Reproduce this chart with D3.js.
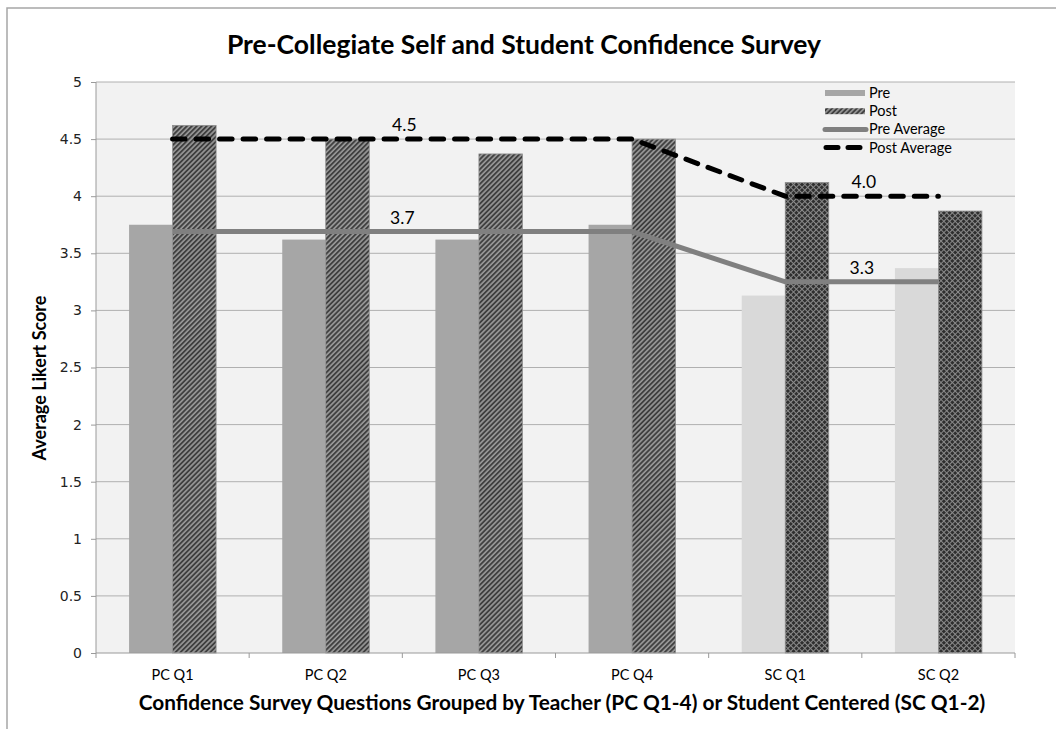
<!DOCTYPE html>
<html>
<head>
<meta charset="utf-8">
<script src="https://cdn.jsdelivr.net/npm/d3@7"></script>
<style>
  body { margin: 0; background: #fff; }
  text { font-family: Lato, "Open Sans", sans-serif; }
</style>
</head>
<body>
<svg width="1056" height="729"></svg>
<script>
// chart data
var categories = ["PC Q1", "PC Q2", "PC Q3", "PC Q4", "SC Q1", "SC Q2"];
var groups = ["PC", "PC", "PC", "PC", "SC", "SC"];
var preValues = [3.75, 3.62, 3.62, 3.75, 3.13, 3.37];
var postValues = [4.62, 4.5, 4.37, 4.5, 4.12, 3.87];
var preAverage = [3.69, 3.69, 3.69, 3.69, 3.25, 3.25];
var postAverage = [4.5, 4.5, 4.5, 4.5, 4.0, 4.0];
var groupNames = ["PC", "SC"];
var preAvgLabels = ["3.7", "3.3"];
var postAvgLabels = ["4.5", "4.0"];
var yTicks = [0, 0.5, 1, 1.5, 2, 2.5, 3, 3.5, 4, 4.5, 5];
var legendItems = ["Pre", "Post", "Pre Average", "Post Average"];

var svg = d3.select("svg"),
    margin = {top: 82, right: 41, bottom: 76, left: 96},
    width = svg.attr("width") - margin.left - margin.right,
    height = svg.attr("height") - margin.top - margin.bottom;

// outer chart frame (only top and left visible)
svg.append("path")
    .attr("d", "M7,729 V8 H1056")
    .attr("fill", "none")
    .attr("stroke", "#a6a6a6")
    .attr("stroke-width", 1.5);

//patterns
var defs = svg.append("defs");
var diag = defs.append("pattern")
    .attr("id", "diag")
    .attr("patternUnits", "userSpaceOnUse")
    .attr("width", 3.5).attr("height", 3.5)
    .attr("patternTransform", "rotate(45)");
diag.append("rect").attr("width", 3.5).attr("height", 3.5).attr("fill", "#9a9a9a");
diag.append("line").attr("x1", 1).attr("y1", 0).attr("x2", 1).attr("y2", 3.5)
    .attr("stroke", "#3a3a3a").attr("stroke-width", 1.8);

var cross = defs.append("pattern")
    .attr("id", "cross")
    .attr("patternUnits", "userSpaceOnUse")
    .attr("width", 4).attr("height", 4)
    .attr("patternTransform", "rotate(45)");
cross.append("rect").attr("width", 4).attr("height", 4).attr("fill", "#2f2f2f");
cross.append("line").attr("x1", 0).attr("y1", 0.5).attr("x2", 4).attr("y2", 0.5)
    .attr("stroke", "#8a8a8a").attr("stroke-width", 1);
cross.append("line").attr("x1", 0.5).attr("y1", 0).attr("x2", 0.5).attr("y2", 4)
    .attr("stroke", "#8a8a8a").attr("stroke-width", 1);

var g = svg.append("g").attr("transform", "translate(" + margin.left + "," + margin.top + ")");

//scales
var x = d3.scaleBand().domain(categories).range([0, width]).padding(0),
    x1 = d3.scaleBand().domain(["pre", "post"]).range([0, x.bandwidth()]).paddingInner(0).paddingOuter(0.76),
    y = d3.scaleLinear().domain([0, 5]).range([height, 0]);

var preFill = {PC: "#a6a6a6", SC: "#d9d9d9"},
    postFill = {PC: "url(#diag)", SC: "url(#cross)"};

//plot background
g.append("rect")
    .attr("width", width).attr("height", height)
    .attr("fill", "#f2f2f2");

//grid lines
g.append("g")
    .selectAll("line")
    .data(yTicks.slice(1))
    .enter().append("line")
    .attr("x1", 0).attr("x2", width)
    .attr("y1", function(d) { return y(d); })
    .attr("y2", function(d) { return y(d); })
    .attr("stroke", "#b0b0b0")
    .attr("stroke-width", 1);

//bars
var cat = g.selectAll(".cat")
    .data(categories)
    .enter().append("g")
    .attr("class", "cat")
    .attr("transform", function(d) { return "translate(" + x(d) + ",0)"; });

cat.append("rect")
    .attr("x", x1("pre"))
    .attr("width", x1.bandwidth())
    .attr("y", function(d, i) { return y(preValues[i]); })
    .attr("height", function(d, i) { return height - y(preValues[i]); })
    .attr("fill", function(d, i) { return preFill[groups[i]]; });

cat.append("rect")
    .attr("x", x1("post"))
    .attr("width", x1.bandwidth())
    .attr("y", function(d, i) { return y(postValues[i]); })
    .attr("height", function(d, i) { return height - y(postValues[i]); })
    .attr("fill", function(d, i) { return postFill[groups[i]]; })
    .attr("stroke", "#8f8f8f")
    .attr("stroke-width", 0.8);

//axes
var yAxis = g.append("g")
    .call(d3.axisLeft(y).tickValues(yTicks).tickSize(5).tickPadding(9).tickFormat(d3.format("")));
yAxis.select(".domain").attr("stroke", "#9a9a9a").attr("d", "M0," + height + "V0");
yAxis.selectAll(".tick line").attr("stroke", "#9a9a9a");
yAxis.selectAll(".tick text")
    .style("font-family", "'DejaVu Sans', sans-serif")
    .style("font-size", "14px")
    .attr("fill", "#222");

var xAxis = g.append("g")
    .attr("transform", "translate(0," + height + ")");
xAxis.append("line")
    .attr("x1", 0).attr("x2", width)
    .attr("stroke", "#9a9a9a");
xAxis.selectAll(".xtick")
    .data(d3.range(categories.length + 1))
    .enter().append("line")
    .attr("x1", function(i) { return i * x.step(); })
    .attr("x2", function(i) { return i * x.step(); })
    .attr("y1", 0).attr("y2", 5)
    .attr("stroke", "#9a9a9a");
xAxis.selectAll(".xlab")
    .data(categories)
    .enter().append("text")
    .attr("x", function(d) { return x(d) + x.bandwidth() / 2; })
    .attr("y", 27)
    .attr("text-anchor", "middle")
    .style("font-size", "14.5px")
    .text(function(d) { return d; });

//average lines
var line = d3.line()
    .x(function(d, i) { return x(categories[i]) + x.bandwidth() / 2; })
    .y(function(d) { return y(d); });

g.append("path")
    .datum(preAverage)
    .attr("d", line)
    .attr("fill", "none")
    .attr("stroke", "#808080")
    .attr("stroke-width", 5);

g.append("path")
    .datum(postAverage)
    .attr("d", line)
    .attr("fill", "none")
    .attr("stroke", "#000")
    .attr("stroke-width", 5)
    .attr("stroke-linecap", "round")
    .attr("stroke-dasharray", "12.5,11");

//average labels, centered over each group
function groupMid(name) {
  var idx = groups.map(function(gr, i) { return gr === name ? i : -1; }).filter(function(i) { return i >= 0; });
  var a = x(categories[idx[0]]) + x.bandwidth() / 2,
      b = x(categories[idx[idx.length - 1]]) + x.bandwidth() / 2;
  return {x: (a + b) / 2, i: idx[0]};
}
groupNames.forEach(function(name, k) {
  var m = groupMid(name);
  g.append("text")
    .attr("x", m.x + 2).attr("y", y(postAverage[m.i]) - 8)
    .attr("text-anchor", "middle")
    .style("font-size", "17.5px")
    .text(postAvgLabels[k]);
  g.append("text")
    .attr("x", m.x).attr("y", y(preAverage[m.i]) - 8)
    .attr("text-anchor", "middle")
    .style("font-size", "17.5px")
    .text(preAvgLabels[k]);
});

//legend
var legend = svg.append("g").attr("transform", "translate(823,93)");
var li = legend.selectAll(".li")
    .data(legendItems)
    .enter().append("g")
    .attr("transform", function(d, i) { return "translate(0," + (i * 18.2) + ")"; });
li.each(function(d, i) {
  var s = d3.select(this);
  if (i === 0) s.append("rect").attr("x", 2).attr("y", -3).attr("width", 40).attr("height", 6).attr("fill", "#a6a6a6");
  if (i === 1) s.append("rect").attr("x", 2).attr("y", -3).attr("width", 40).attr("height", 6).attr("fill", "url(#diag)");
  if (i === 2) s.append("line").attr("x1", 2).attr("x2", 43).attr("stroke", "#808080").attr("stroke-width", 5).attr("stroke-linecap", "round");
  if (i === 3) s.append("line").attr("x1", 3).attr("x2", 43).attr("stroke", "#000").attr("stroke-width", 5)
      .attr("stroke-linecap", "round").attr("stroke-dasharray", "12,10");
});
li.append("text")
    .attr("x", 46).attr("dy", "0.35em")
    .style("font-size", "14.5px")
    .text(function(d) { return d; });

//titles
svg.append("text")
    .attr("x", 524).attr("y", 54)
    .attr("text-anchor", "middle")
    .style("font-size", "26.5px").style("font-weight", "bold")
    .text("Pre-Collegiate Self and Student Confidence Survey");

svg.append("text")
    .attr("x", 562).attr("y", 710)
    .attr("text-anchor", "middle")
    .style("font-size", "20.8px").style("font-weight", "bold")
    .text("Confidence Survey Questions Grouped by Teacher (PC Q1-4) or Student Centered (SC Q1-2)");

svg.append("text")
    .attr("transform", "translate(46,378) rotate(-90)")
    .attr("text-anchor", "middle")
    .style("font-size", "18px").style("font-weight", "bold")
    .text("Average Likert Score");
</script>
</body>
</html>
